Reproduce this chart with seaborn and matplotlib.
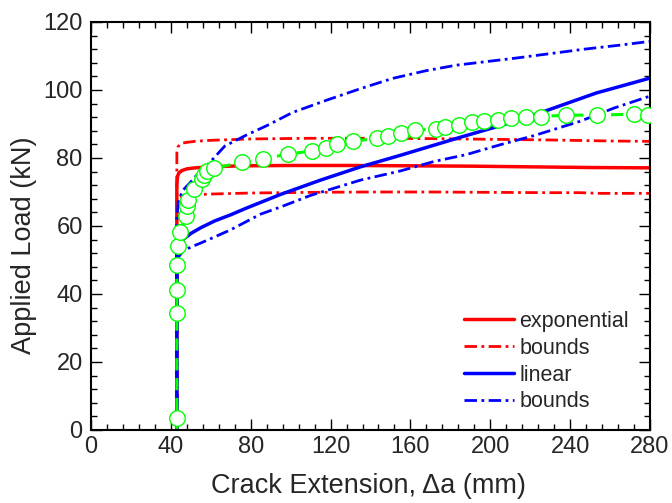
import matplotlib
matplotlib.use("Agg")
import matplotlib.pyplot as plt
import seaborn as sns
import numpy as np
import pandas as pd
from matplotlib.ticker import MultipleLocator
from matplotlib.lines import Line2D

# ---------------- data ----------------
exp_x = [43, 43, 43.3, 44, 45.5, 48, 52, 60, 75, 100, 130, 160, 190, 220, 250, 280]
exp_y = [0, 72, 74.5, 75.6, 76.3, 76.8, 77.1, 77.4, 77.7, 77.8, 77.8, 77.7, 77.6, 77.4, 77.2, 77.1]

exp_up_x = [43, 43, 43.5, 44.5, 46, 48, 52, 60, 80, 110, 140, 170, 200, 230, 260, 280]
exp_up_y = [0, 81.5, 83.2, 84.0, 84.4, 84.6, 84.9, 85.2, 85.6, 85.8, 85.8, 85.7, 85.5, 85.3, 85.0, 84.9]

exp_lo_x = [43, 43, 43.5, 44.5, 47, 52, 60, 80, 110, 140, 170, 200, 230, 245, 255, 280]
exp_lo_y = [0, 66, 68, 68.7, 69.0, 69.2, 69.4, 69.7, 69.9, 70.0, 70.0, 69.9, 69.8, 69.8, 69.6, 69.6]

lin_x = [43, 43, 44, 46, 50, 55, 62, 70, 78, 95, 115, 135, 155, 185, 205, 227, 253, 280]
lin_y = [0, 52, 54.3, 56, 57.8, 59.5, 61.5, 63.3, 65.3, 69.3, 73.5, 77.4, 80.8, 86.1, 89.5, 93.7, 99.1, 103.5]

lin_up_x = [43, 43, 43.7, 46, 49.6, 53, 56.3, 60, 67, 78, 88, 101, 118, 135, 151, 168, 183, 213, 247, 265, 280]
lin_up_y = [0, 62, 67.3, 70.5, 72.7, 75, 76.6, 79, 83.5, 86.8, 89.5, 93.4, 97, 100.4, 103.4, 105.7, 107.3, 109.4, 112.0, 113.2, 114.3]

lin_lo_x = [43, 43, 44, 46, 50, 55, 62, 70, 85, 95, 110, 135, 155, 172, 188, 205, 222, 245, 262, 280]
lin_lo_y = [0, 49, 51, 52.6, 53.8, 55, 56.8, 58.9, 63.5, 65.6, 69, 73.5, 76.2, 79, 81, 83.9, 86.6, 90.8, 94.7, 98.2]

exp_data_x = [43, 43, 43, 43, 43.5, 44.6, 47.4, 47.9, 48.6, 51.8, 55.6, 56.6, 58.3, 61.6, 75.5, 86.3,
              98.5, 110.5, 117.7, 123.4, 131.1, 143.1, 148.6, 155.2, 162.3, 172.8, 177.4, 184.5,
              190.7, 196.9, 204, 210.3, 217.9, 225.3, 238, 253.4, 272.2, 279]
exp_data_y = [3.4, 34.3, 41.2, 48.4, 54.1, 58.2, 62.8, 66.0, 67.7, 70.9, 73.8, 75.1, 76.1, 77.0, 78.7, 79.8,
              81.1, 82.1, 83.0, 84.0, 84.9, 85.8, 86.6, 87.4, 88.1, 88.6, 89.2, 89.8,
              90.5, 91.0, 91.3, 91.8, 92.0, 92.2, 92.6, 92.6, 92.9, 92.7]

legend_labels = ["exponential", "bounds", "linear", "bounds"]
x_ticks = [0, 40, 80, 120, 160, 200, 240, 280]
y_ticks = [0, 20, 40, 60, 80, 100, 120]

# ---------------- style ----------------
sns.set_style("ticks")
plt.rcParams['font.family'] = ['Liberation Sans', 'DejaVu Sans']

fig = plt.figure(figsize=(6.72, 5.03), dpi=100)
ax = fig.add_axes([91/672, 1-430/503, (650-91)/672, (430-22)/503])

RED = "#FF0000"
BLUE = "#0000FF"
GREEN = "#00FF00"
dashdot = (0, (4.5, 1.6, 1.0, 1.6))
DD_LW = 2.0
SOLID_LW = 2.5

def draw(x, y, **kw):
    df = pd.DataFrame({"x": x, "y": y})
    sns.lineplot(data=df, x="x", y="y", sort=False, estimator=None, ax=ax, **kw)

draw(exp_up_x, exp_up_y, color=RED, linewidth=DD_LW, linestyle=dashdot, label="_a")
draw(exp_lo_x, exp_lo_y, color=RED, linewidth=DD_LW, linestyle=dashdot, label="_b")
draw(exp_x, exp_y, color=RED, linewidth=SOLID_LW, label="_c")
draw(lin_up_x, lin_up_y, color=BLUE, linewidth=DD_LW, linestyle=dashdot, label="_d")
draw(lin_lo_x, lin_lo_y, color=BLUE, linewidth=DD_LW, linestyle=dashdot, label="_e")
draw(lin_x, lin_y, color=BLUE, linewidth=SOLID_LW, label="_f")

# experimental data: dashed line from the axis, open circle markers
gx = [exp_data_x[0]] + exp_data_x
gy = [0] + exp_data_y
draw(gx, gy, color=GREEN, linewidth=2.2, linestyle=(0, (4, 2.5)), label="_g")
sns.scatterplot(x=exp_data_x, y=exp_data_y, ax=ax, s=125, facecolor="white",
                edgecolor=GREEN, linewidth=1.0, zorder=5, clip_on=True, legend=False)

# legend
handles = [Line2D([], [], color=RED, linewidth=SOLID_LW),
           Line2D([], [], color=RED, linewidth=DD_LW, linestyle=dashdot),
           Line2D([], [], color=BLUE, linewidth=SOLID_LW),
           Line2D([], [], color=BLUE, linewidth=DD_LW, linestyle=dashdot)]
ax.legend(handles, legend_labels, loc="lower right", bbox_to_anchor=(0.978, 0.022), frameon=False,
          fontsize=15.5, handlelength=2.3, handletextpad=0.27, labelspacing=0.27, borderaxespad=0.0)

ax.set_xlim(0, 280)
ax.set_ylim(0, 120)
ax.set_xticks(x_ticks)
ax.set_yticks(y_ticks)
ax.xaxis.set_minor_locator(MultipleLocator(8))
ax.yaxis.set_minor_locator(MultipleLocator(4))
ax.tick_params(which="both", direction="in", top=True, right=True, width=1.0, color="black")
ax.tick_params(which="major", length=8, labelsize=17, pad=4)
ax.tick_params(which="minor", length=4)
ax.tick_params(axis="y", which="major", pad=6)
for sp in ax.spines.values():
    sp.set_linewidth(1.5)
    sp.set_color("black")

ax.set_xlabel("Crack Extension, \u0394a (mm)", fontsize=19.5)
ax.set_ylabel("Applied Load (kN)", fontsize=19.5)
ax.xaxis.set_label_coords(0.496, -0.105)
ax.yaxis.set_label_coords(-0.0966, 0.453)

fig.savefig("out.png", dpi=100)
